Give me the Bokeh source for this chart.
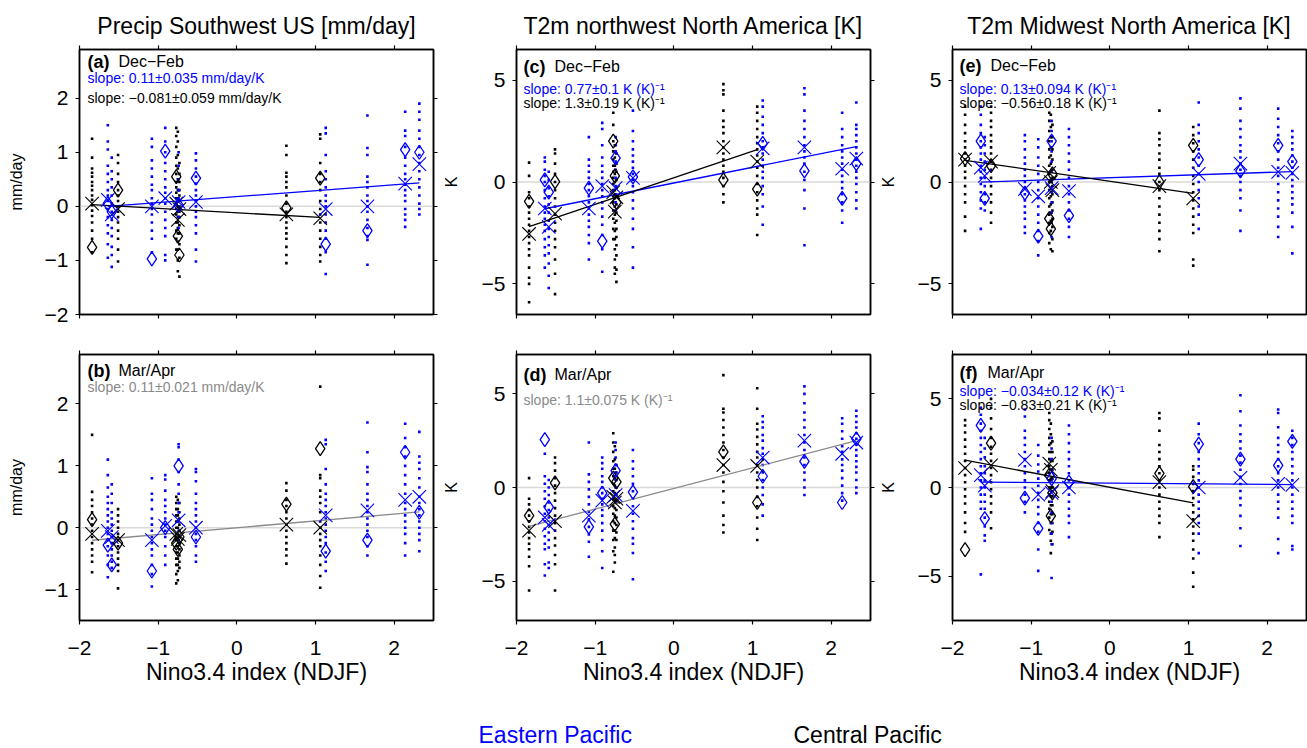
from bokeh.plotting import figure
from bokeh.models import Range1d, LinearAxis, FixedTicker, Label, Span
from bokeh.layouts import column, row
from bokeh.embed import file_html
from bokeh.resources import INLINE
from bokeh.core.properties import value

FONT = "Liberation Sans"
BLUE = "#0000ff"
BLACK = "#000000"
GRAY = "#8a8a8a"

# ---------------- events (Nino3.4 index, ENSO type) ----------------
nino = [-1.84, -1.64, -1.59, -1.51, -1.08, -0.91, -0.77, -0.75, -0.73, -0.74, -0.52,
        0.63, 1.06, 1.13, 1.66, 2.14, 2.32]
etype = ["CP", "EP", "EP", "CP", "EP", "EP", "CP", "CP", "CP", "EP", "EP",
         "CP", "CP", "EP", "EP", "EP", "EP"]

x_ticks = [-2, -1, 0, 1, 2]
x_tick_labels = ["\u22122", "\u22121", "0", "1", "2"]
precip_ticks = [-2, -1, 0, 1, 2]
precip_tick_labels = ["\u22122", "\u22121", "0", "1", "2"]
temp_ticks = [-5, 0, 5]
temp_tick_labels = ["\u22125", "0", "5"]

# ---------------- panel (a) Precip SW US, Dec-Feb ----------------
mean_a = [0.05, 0.12, -0.15, -0.05, 0.0, 0.15, 0.05, -0.25, -0.05, 0.08, 0.08, -0.15, -0.22, -0.05, 0.0, 0.42, 0.78]
obs_a = [-0.76, 0.05, -0.1, 0.3, -0.97, 1.02, 0.55, -0.55, -0.9, 0.02, 0.52, -0.03, 0.52, -0.7, -0.45, 1.05, 1.0]
dots_a = [
    [1.25, 0.9, 0.7, 0.62, 0.55, 0.45, 0.38, 0.3, 0.2, 0.12, 0.02, -0.08, -0.18, -0.3, -0.45, -0.6, -0.85],
    [1.5, 1.2, 1.05, 0.75, 0.6, 0.45, 0.3, 0.2, 0.1, -0.05, -0.2, -0.35, -0.5, -0.7, -0.95],
    [0.9, 0.65, 0.5, 0.35, 0.2, 0.05, -0.1, -0.25, -0.4, -0.55, -0.75, -0.9, -1.12],
    [0.95, 0.8, 0.6, 0.45, 0.3, 0.2, 0.1, 0.0, -0.1, -0.2, -0.3, -0.45, -0.6, -0.8, -1.02],
    [1.25, 1.1, 0.85, 0.7, 0.55, 0.4, 0.3, 0.15, 0.05, -0.05, -0.15, -0.3, -0.45, -0.6, -0.85],
    [1.45, 1.2, 1.0, 0.8, 0.65, 0.5, 0.35, 0.25, 0.15, 0.05, -0.1, -0.25, -0.4, -0.55, -0.9, -1.0],
    [1.45, 1.3, 1.1, 0.9, 0.75, 0.6, 0.45, 0.35, 0.25, 0.15, 0.05, -0.05, -0.15, -0.3, -0.45, -0.6, -0.8],
    [1.38, 1.2, 0.95, 0.7, 0.5, 0.3, 0.15, 0.0, -0.1, -0.2, -0.3, -0.4, -0.5, -0.65, -0.8, -1.0, -1.2],
    [0.8, 0.6, 0.45, 0.3, 0.2, 0.1, 0.0, -0.1, -0.2, -0.35, -0.5, -0.7, -0.95, -1.3],
    [1.0, 0.75, 0.5, 0.3, 0.15, 0.0, -0.2, -0.4],
    [0.98, 0.85, 0.7, 0.55, 0.42, 0.3, 0.2, 0.1, 0.0, -0.1, -0.2, -0.35, -0.5, -0.8, -1.02],
    [1.12, 0.95, 0.62, 0.55, 0.45, 0.35, 0.2, 0.05, -0.1, -0.2, -0.3, -0.4, -0.5, -0.6, -0.75, -0.9, -1.05],
    [1.33, 1.25, 0.8, 0.6, 0.45, 0.3, 0.1, -0.05, -0.15, -0.3, -0.45, -0.6, -0.75, -0.9, -1.02],
    [1.45, 1.35, 0.95, 0.65, 0.5, 0.35, 0.2, 0.1, 0.0, -0.15, -0.3, -0.45, -0.6, -0.85, -1.25],
    [1.68, 1.08, 0.95, 0.55, 0.45, 0.35, 0.2, 0.1, 0.0, -0.1, -0.25, -0.4, -0.55, -0.62, -1.08],
    [1.75, 1.4, 1.3, 1.1, 0.9, 0.75, 0.6, 0.5, 0.4, 0.3, 0.2, 0.1, -0.05, -0.15, -0.25, -0.38],
    [1.9, 1.75, 1.6, 1.4, 1.25, 1.1, 0.95, 0.8, 0.65, 0.5, 0.35, 0.2, 0.05, -0.05, -0.15],
]
fit_a = {"EP": (0.11, 0.18), "CP": (-0.081, -0.119)}

# ---------------- panel (b) Precip SW US, Mar/Apr ----------------
mean_b = [-0.1, -0.05, -0.15, -0.2, -0.2, 0.03, -0.1, -0.18, -0.12, 0.12, 0.0, 0.05, 0.0, 0.2, 0.28, 0.45, 0.5]
obs_b = [0.13, -0.28, -0.6, -0.25, -0.7, 0.0, -0.25, -0.35, -0.15, 1.0, -0.15, 0.38, 1.28, -0.38, -0.2, 1.22, 0.25]
dots_b = [
    [1.5, 0.58, 0.45, 0.35, 0.25, 0.15, 0.05, -0.05, -0.15, -0.25, -0.35, -0.45, -0.55, -0.72],
    [1.1, 0.85, 0.65, 0.5, 0.4, 0.3, 0.2, 0.1, 0.0, -0.1, -0.2, -0.3, -0.45, -0.6, -0.8],
    [0.7, 0.55, 0.4, 0.25, 0.15, 0.05, -0.05, -0.15, -0.25, -0.35, -0.45, -0.55, -0.65],
    [0.3, 0.2, 0.1, 0.0, -0.1, -0.2, -0.3, -0.4, -0.5, -0.6, -0.7, -0.98],
    [0.8, 0.55, 0.45, 0.3, 0.15, 0.05, -0.05, -0.15, -0.25, -0.35, -0.45, -0.6, -0.75, -0.95],
    [0.85, 0.78, 0.6, 0.45, 0.35, 0.25, 0.15, 0.05, -0.05, -0.15, -0.3, -0.45, -0.6],
    [0.5, 0.4, 0.3, 0.2, 0.1, 0.0, -0.1, -0.2, -0.3, -0.4, -0.5, -0.6, -0.75, -0.9],
    [0.45, 0.3, 0.2, 0.1, 0.0, -0.1, -0.2, -0.3, -0.4, -0.5, -0.6, -0.7, -0.85],
    [0.4, 0.25, 0.15, 0.05, -0.05, -0.15, -0.25, -0.35, -0.45, -0.55, -0.65],
    [1.35, 1.3, 1.1, 0.9, 0.7, 0.55, 0.4, 0.25, 0.1, -0.05, -0.2],
    [0.95, 0.9, 0.75, 0.55, 0.4, 0.3, 0.2, 0.1, 0.0, -0.1, -0.2, -0.3, -0.45, -0.55],
    [0.72, 0.6, 0.45, 0.35, 0.25, 0.15, 0.05, -0.05, -0.15, -0.25, -0.35, -0.45, -0.58],
    [2.28, 0.85, 0.8, 0.6, 0.5, 0.4, 0.25, 0.1, 0.0, -0.1, -0.2, -0.3, -0.45, -0.6, -0.78, -0.97],
    [1.42, 1.35, 0.95, 0.7, 0.55, 0.45, 0.35, 0.25, 0.15, 0.05, -0.05, -0.15, -0.25, -0.4, -0.55, -0.7],
    [1.7, 1.22, 0.98, 0.9, 0.7, 0.55, 0.45, 0.35, 0.25, 0.15, 0.05, -0.05, -0.15, -0.3, -0.45],
    [1.68, 1.45, 1.3, 1.15, 1.0, 0.85, 0.7, 0.55, 0.4, 0.3, 0.2, 0.1, 0.0, -0.1, -0.25, -0.45],
    [1.55, 1.15, 1.05, 0.95, 0.8, 0.65, 0.5, 0.4, 0.3, 0.2, 0.1, 0.0, -0.1, -0.2, -0.38],
]
fit_b = {"ALL": (0.11, 0.0)}

# ---------------- panel (c) T2m NW North America, Dec-Feb ----------------
mean_c = [-2.55, -1.3, -2.2, -1.55, -1.3, -0.2, -0.5, -1.45, -0.75, -0.3, 0.2, 1.7, 1.0, 1.65, 1.7, 0.65, 1.15]
obs_c = [-0.95, 0.1, -0.5, 0.02, -0.3, -2.9, 2.0, 0.3, -1.0, 1.17, 0.25, 0.1, -0.35, 1.9, 0.55, -0.8, 0.9]
dots_c = [
    [0.95, 0.3, -0.5, -0.8, -1.2, -1.5, -1.8, -2.1, -2.4, -2.7, -3.0, -3.3, -3.6, -4.2, -4.7, -5.0, -5.9],
    [1.2, 1.0, 0.6, 0.3, 0.0, -0.4, -0.8, -1.2, -1.5, -1.8, -2.1, -2.4, -2.8, -3.2, -3.6, -4.2],
    [0.5, 0.1, -0.3, -0.7, -1.1, -1.5, -1.9, -2.3, -2.7, -3.1, -3.5, -4.0, -4.6, -5.2],
    [1.6, 1.4, 0.9, 0.4, 0.0, -0.4, -0.8, -1.2, -1.6, -2.0, -2.4, -2.8, -3.2, -3.8, -4.5, -5.5],
    [2.2, 1.1, 0.8, 0.5, 0.2, -0.1, -0.4, -0.7, -1.0, -1.3, -1.6, -1.9, -2.2, -2.6, -3.0, -3.8],
    [2.9, 2.6, 1.8, 1.2, 0.8, 0.5, 0.2, -0.1, -0.4, -0.7, -1.0, -1.3, -1.7, -2.1, -2.6, -3.3, -4.4],
    [3.4, 2.8, 2.0, 1.5, 1.1, 0.8, 0.5, 0.2, -0.1, -0.4, -0.7, -1.0, -1.4, -1.8, -2.3, -2.8],
    [1.8, 1.2, 0.8, 0.4, 0.0, -0.4, -0.8, -1.2, -1.6, -2.0, -2.4, -2.8, -3.3, -3.8, -4.2, -4.5],
    [1.4, 0.9, 0.5, 0.1, -0.3, -0.7, -1.1, -1.5, -1.9, -2.3, -2.7, -3.1, -3.6, -4.3, -4.9],
    [2.2, 1.8, 1.5, 1.0, 0.6, 0.2, -0.2, -0.6, -1.0, -1.4],
    [3.5, 2.5, 2.0, 1.6, 1.3, 1.0, 0.7, 0.4, 0.1, -0.2, -0.5, -0.9, -1.3, -1.8, -2.3, -3.2, -4.2],
    [4.8, 4.5, 4.3, 3.5, 3.0, 2.7, 2.4, 2.0, 1.7, 1.4, 1.1, 0.8, 0.5, 0.2, -0.2, -0.6, -1.0],
    [3.7, 3.4, 3.0, 2.6, 2.2, 1.9, 1.6, 1.3, 1.0, 0.7, 0.3, -0.1, -0.5, -0.9, -1.3, -1.6, -2.6],
    [4.0, 3.7, 3.2, 2.8, 2.4, 2.0, 1.7, 1.4, 1.1, 0.8, 0.5, 0.2, -0.2, -0.6, -1.2, -2.1],
    [4.6, 4.3, 3.5, 3.0, 2.6, 2.2, 1.8, 1.5, 1.2, 0.9, 0.5, 0.1, -0.4, -1.3, -3.1],
    [3.4, 2.6, 2.2, 1.8, 1.5, 1.2, 0.9, 0.6, 0.3, 0.0, -0.3, -0.6, -1.0, -1.4, -2.0],
    [3.9, 2.8, 2.6, 2.3, 2.0, 1.7, 1.4, 1.1, 0.8, 0.5, 0.2, -0.1, -0.5, -0.9, -1.3],
]
fit_c = {"EP": (0.77, -0.05), "CP": (1.3, 0.205)}

# ---------------- panel (d) T2m NW North America, Mar/Apr ----------------
mean_d = [-2.3, -1.6, -2.0, -1.8, -1.5, -0.7, -0.5, -0.8, -0.6, -0.4, -1.25, 1.2, 1.15, 1.6, 2.5, 1.8, 2.4]
obs_d = [-1.5, 2.55, -1.05, 0.25, -2.1, -0.3, 0.5, -1.95, 0.3, 0.9, -0.25, 1.9, -0.8, 0.6, 1.4, -0.8, 2.6]
dots_d = [
    [0.5, -0.6, -0.9, -1.2, -1.5, -1.8, -2.1, -2.4, -2.7, -3.0, -3.3, -3.7, -4.2, -5.5],
    [1.8, 0.6, 0.2, -0.2, -0.6, -1.0, -1.4, -1.8, -2.2, -2.6, -3.0, -3.3, -4.1, -4.7],
    [0.4, 0.0, -0.4, -0.8, -1.2, -1.6, -2.0, -2.4, -2.8, -3.2, -4.0, -4.3],
    [1.6, 1.3, 0.9, 0.5, 0.1, -0.3, -0.7, -1.1, -1.5, -1.9, -2.3, -2.7, -3.1, -3.6, -4.1, -5.5],
    [2.4, 0.7, 0.3, -0.1, -0.5, -0.9, -1.3, -1.7, -2.1, -2.5, -2.9, -3.7],
    [1.6, 1.3, 1.0, 0.6, 0.3, 0.0, -0.3, -0.6, -0.9, -1.2, -1.5, -1.9, -2.3, -2.8, -3.4, -4.3],
    [2.9, 2.4, 1.9, 1.4, 1.0, 0.6, 0.2, -0.2, -0.6, -1.0, -1.4, -1.8, -2.3, -2.8, -3.4, -4.5],
    [2.2, 1.5, 1.0, 0.5, 0.1, -0.3, -0.7, -1.1, -1.5, -1.9, -2.3, -2.7, -3.2, -3.6, -4.0],
    [1.2, 0.8, 0.4, 0.0, -0.4, -0.8, -1.2, -1.6, -2.0, -2.4, -2.8],
    [2.4, 2.0, 1.6, 1.2, 0.8, 0.4, 0.0, -0.4, -0.8],
    [2.0, 1.4, 1.0, 0.6, 0.2, -0.2, -0.6, -1.0, -1.4, -1.8, -2.2, -2.7, -3.0, -3.5, -4.9],
    [6.0, 4.2, 4.0, 3.6, 3.2, 2.8, 2.4, 2.0, 1.6, 1.2, 0.8, 0.3, -0.2, -0.8, -1.5, -2.0, -2.4],
    [5.3, 4.2, 3.4, 3.1, 2.7, 2.3, 1.9, 1.6, 1.2, 0.8, 0.4, 0.0, -0.5, -1.0, -1.6, -2.2, -2.8],
    [3.8, 3.5, 3.2, 2.8, 2.5, 2.1, 1.8, 1.5, 1.2, 0.8, 0.4, 0.0, -0.4, -0.9, -1.5],
    [5.4, 5.0, 4.5, 4.0, 3.6, 3.2, 2.8, 2.4, 2.0, 1.6, 1.2, 0.8, 0.4, 0.0, -0.4],
    [3.7, 3.4, 3.0, 2.6, 2.2, 1.9, 1.5, 1.2, 0.9, 0.5, 0.1, -0.3, -0.7],
    [4.1, 3.8, 3.5, 3.2, 2.9, 2.6, 2.3, 2.0, 1.7, 1.4, 1.1, 0.8, 0.4, 0.0, -0.3],
]
fit_d = {"ALL": (1.1, -0.05)}

# ---------------- panel (e) T2m Midwest North America, Dec-Feb ----------------
mean_e = [1.1, 0.7, 0.3, 1.0, -0.35, -0.7, 0.45, 0.0, -0.4, -0.3, -0.45, -0.2, -0.8, 0.4, 0.9, 0.5, 0.45]
obs_e = [1.15, 2.0, -0.8, 0.8, -0.55, -2.65, -1.8, -2.3, 0.4, 2.0, -1.65, 0.0, 1.8, 1.1, 0.55, 1.8, 1.0]
dots_e = [
    [3.7, 3.3, 2.8, 2.4, 2.0, 1.7, 1.4, 1.1, 0.8, 0.5, 0.2, -0.2, -0.6, -1.0, -1.7, -2.4],
    [3.7, 3.3, 2.8, 2.4, 2.0, 1.7, 1.4, 1.1, 0.8, 0.5, 0.2, -0.1, -0.5, -0.9, -1.3, -2.3],
    [2.2, 1.8, 1.4, 1.0, 0.6, 0.2, -0.2, -0.6, -1.0, -1.4],
    [3.7, 3.4, 3.0, 2.7, 2.3, 2.0, 1.7, 1.4, 1.0, 0.6, 0.2, -0.2, -0.6, -1.0, -1.5, -2.0],
    [2.3, 2.0, 1.6, 1.2, 0.9, 0.6, 0.3, 0.0, -0.3, -0.6, -0.9, -1.2, -1.5, -1.8, -2.2, -2.5],
    [2.1, 1.7, 1.2, 0.8, 0.4, 0.0, -0.4, -0.8, -1.2, -1.6, -2.0, -2.4, -2.9, -3.6],
    [3.4, 3.0, 2.5, 2.0, 1.6, 1.2, 0.8, 0.4, 0.0, -0.4, -0.8, -1.2, -1.6, -2.0, -2.5, -3.0],
    [3.3, 2.7, 2.2, 1.7, 1.3, 0.9, 0.5, 0.1, -0.3, -0.7, -1.1, -1.5, -1.9, -2.4, -3.3],
    [2.8, 2.2, 1.6, 1.1, 0.6, 0.2, -0.2, -0.6, -1.0, -1.4, -1.8, -2.2, -2.8, -3.4],
    [3.0, 2.5, 2.0, 1.5, 1.0, 0.5, 0.0, -0.5, -1.0, -1.5, -2.0, -2.7],
    [2.6, 2.2, 1.8, 1.4, 1.0, 0.6, 0.2, -0.2, -0.6, -1.0, -1.4, -1.8, -2.2, -2.7],
    [3.5, 2.4, 2.1, 1.8, 1.4, 1.1, 0.7, 0.4, 0.0, -0.4, -0.8, -1.2, -1.6, -2.0, -2.4, -2.8, -3.4],
    [2.7, 2.3, 1.9, 1.5, 1.1, 0.7, 0.3, -0.1, -0.5, -0.9, -1.3, -1.7, -2.1, -2.5, -3.8, -4.1],
    [3.9, 2.8, 2.4, 2.0, 1.6, 1.2, 0.8, 0.4, 0.0, -0.4, -0.8, -1.2, -1.6, -2.3],
    [4.1, 3.6, 3.0, 2.6, 2.2, 1.8, 1.5, 1.2, 0.9, 0.6, 0.3, 0.0, -0.4, -0.8, -1.4, -2.4],
    [3.6, 3.1, 2.7, 2.3, 1.9, 1.5, 1.1, 0.7, 0.3, -0.1, -0.5, -0.9, -1.3, -1.7, -2.2, -2.7],
    [2.5, 2.2, 1.9, 1.6, 1.3, 1.0, 0.7, 0.4, 0.1, -0.2, -0.5, -0.8, -1.1, -1.5, -2.2, -3.5],
]
fit_e = {"EP": (0.13, 0.21), "CP": (-0.56, 0.035)}

# ---------------- panel (f) T2m Midwest North America, Mar/Apr ----------------
mean_f = [1.1, 0.7, 0.1, 1.25, 1.55, -0.4, 1.35, 1.0, -0.2, -0.3, 0.0, 0.3, -1.9, 0.0, 0.55, 0.2, 0.15]
obs_f = [-3.5, 3.5, -1.75, 2.5, -0.6, -2.3, 0.7, -1.6, -0.3, 0.5, 0.3, 0.8, 0.05, 2.45, 1.6, 1.25, 2.6]
dots_f = [
    [3.8, 3.5, 3.1, 2.7, 2.3, 1.9, 1.5, 1.1, 0.7, 0.3, -0.1, -0.5, -0.9, -1.4, -2.0, -2.5],
    [4.5, 4.1, 3.6, 3.2, 2.8, 2.4, 2.0, 1.6, 1.2, 0.8, 0.4, 0.0, -0.4, -0.8, -1.2, -4.9],
    [2.8, 2.2, 1.7, 1.2, 0.8, 0.4, 0.0, -0.4, -0.8, -1.2, -1.7, -2.2, -2.7, -3.0],
    [5.0, 4.5, 3.9, 3.3, 2.8, 2.3, 1.9, 1.5, 1.1, 0.7, 0.3, -0.1, -0.5, -0.9, -1.4, -2.3],
    [4.4, 4.0, 3.2, 2.8, 2.4, 2.0, 1.6, 1.2, 0.8, 0.4, 0.0, -0.4, -0.8, -1.4],
    [2.4, 1.8, 1.3, 0.9, 0.5, 0.1, -0.3, -0.7, -1.1, -1.5, -2.0, -2.5, -3.5, -4.7],
    [4.2, 3.8, 3.3, 2.8, 2.4, 2.0, 1.6, 1.2, 0.8, 0.4, 0.0, -0.4, -0.8, -1.2, -1.7, -2.4],
    [3.6, 3.0, 2.5, 2.0, 1.5, 1.0, 0.5, 0.0, -0.5, -1.0, -1.5, -2.0, -2.6, -3.0, -3.7],
    [2.6, 2.0, 1.5, 1.0, 0.5, 0.0, -0.5, -1.0, -1.5, -2.0, -2.5, -3.2],
    [2.8, 2.2, 1.6, 1.0, 0.4, -0.2, -0.8, -1.4, -2.0, -2.6, -3.2, -5.1],
    [3.5, 3.0, 2.5, 2.0, 1.6, 1.2, 0.8, 0.4, 0.0, -0.4, -0.8, -1.2, -1.6, -2.0, -2.8],
    [4.2, 3.9, 3.2, 2.4, 2.0, 1.6, 1.2, 0.8, 0.4, 0.0, -0.4, -0.8, -1.2, -1.6, -2.0, -2.8],
    [1.2, 1.0, 0.6, 0.2, -0.2, -0.6, -1.0, -1.4, -1.8, -2.2, -2.6, -3.0, -3.5, -4.0, -4.8, -5.6],
    [3.6, 3.0, 2.5, 2.0, 1.6, 1.2, 0.8, 0.4, 0.0, -0.4, -0.8, -1.2, -1.6, -2.0, -2.6, -3.7],
    [5.2, 4.3, 3.5, 3.0, 2.6, 2.2, 1.8, 1.4, 1.0, 0.6, 0.2, -0.2, -0.6, -1.0, -1.6, -2.3, -3.3],
    [4.4, 4.2, 3.4, 2.8, 2.4, 2.0, 1.6, 1.2, 0.8, 0.4, 0.0, -0.4, -0.8, -1.2, -1.7, -2.9, -3.7],
    [3.2, 2.8, 2.4, 2.0, 1.6, 1.2, 0.8, 0.4, 0.0, -0.4, -0.8, -1.2, -1.6, -2.0, -3.3, -3.5],
]
fit_f = {"EP": (-0.034, 0.245), "CP": (-0.83, 0.011)}

titles = ["Precip Southwest US [mm/day]", "T2m northwest North America [K]", "T2m Midwest North America [K]"]
KM1 = " K (K)\u207b\u00b9"

panels = {
    "a": dict(mean=mean_a, obs=obs_a, dots=dots_a, fit=fit_a, yr=(-2.0, 2.9), ticks=precip_ticks,
              tlabels=precip_tick_labels, ylabel="mm/day", season="Dec\u2212Feb",
              slopes=[("slope: 0.11\u00b10.035 mm/day/K", BLUE), ("slope: \u22120.081\u00b10.059 mm/day/K", BLACK)]),
    "b": dict(mean=mean_b, obs=obs_b, dots=dots_b, fit=fit_b, yr=(-1.5, 2.8), ticks=precip_ticks,
              tlabels=precip_tick_labels, ylabel="mm/day", season="Mar/Apr",
              slopes=[("slope: 0.11\u00b10.021 mm/day/K", GRAY)]),
    "c": dict(mean=mean_c, obs=obs_c, dots=dots_c, fit=fit_c, yr=(-6.5, 6.5), ticks=temp_ticks,
              tlabels=temp_tick_labels, ylabel="K", season="Dec\u2212Feb",
              slopes=[("slope: 0.77\u00b10.1" + KM1, BLUE), ("slope: 1.3\u00b10.19" + KM1, BLACK)]),
    "d": dict(mean=mean_d, obs=obs_d, dots=dots_d, fit=fit_d, yr=(-7.1, 7.1), ticks=temp_ticks,
              tlabels=temp_tick_labels, ylabel="K", season="Mar/Apr",
              slopes=[("slope: 1.1\u00b10.075" + KM1, GRAY)]),
    "e": dict(mean=mean_e, obs=obs_e, dots=dots_e, fit=fit_e, yr=(-6.5, 6.5), ticks=temp_ticks,
              tlabels=temp_tick_labels, ylabel="K", season="Dec\u2212Feb",
              slopes=[("slope: 0.13\u00b10.094" + KM1, BLUE), ("slope: \u22120.56\u00b10.18" + KM1, BLACK)]),
    "f": dict(mean=mean_f, obs=obs_f, dots=dots_f, fit=fit_f, yr=(-7.5, 7.5), ticks=temp_ticks,
              tlabels=temp_tick_labels, ylabel="K", season="Mar/Apr",
              slopes=[("slope: \u22120.034\u00b10.12" + KM1, BLUE), ("slope: \u22120.83\u00b10.21" + KM1, BLACK)]),
}

# layout (pixels)
FW = 354
BL = [79, 77, 75]
BR = [6, 6, 2]
Y_STANDOFF = [17, 19, 18]
# text offsets from frame top: (season, slope1, slope2)
TXT = {"a": (3, 20, 40), "b": (7, 24), "c": (8, 31, 45), "d": (11, 37), "e": (7, 31, 45), "f": (9, 28, 42)}
TAGX = {"a": (8, 39), "b": (8, 39), "c": (7, 38), "d": (7, 38), "e": (7, 38), "f": (7, 35)}


def make_panel(key, col, toprow):
    d = panels[key]
    fh = 265 if toprow else 266
    p = figure(frame_width=FW, frame_height=fh, x_range=Range1d(-2, 2.5), y_range=Range1d(*d["yr"]),
               output_backend="svg", toolbar_location=None,
               min_border_left=BL[col], min_border_right=BR[col],
               min_border_top=49 if toprow else 27, min_border_bottom=13 if toprow else 74,
               background_fill_color="white", border_fill_color="white")
    p.xgrid.visible = False
    p.ygrid.visible = False
    p.outline_line_color = "black"
    p.outline_line_width = 1.5

    # axes
    xa, ya = p.xaxis[0], p.yaxis[0]
    xa.ticker = FixedTicker(ticks=x_ticks)
    xa.major_label_overrides = {t: l for t, l in zip(x_ticks, x_tick_labels)}
    ya.ticker = FixedTicker(ticks=d["ticks"])
    ya.major_label_overrides = {t: l for t, l in zip(d["ticks"], d["tlabels"])}
    for ax in (xa, ya):
        ax.major_tick_out = 4
        ax.major_tick_in = 0
        ax.minor_tick_out = 0
        ax.minor_tick_in = 0
        ax.axis_line_width = 1.5
        ax.major_tick_line_width = 1.2
        ax.major_label_text_font = FONT
        ax.major_label_text_font_size = "21px"
        ax.major_label_text_color = "black"
        ax.axis_label_text_font = FONT
        ax.axis_label_text_font_style = "normal"
        ax.axis_label_text_color = "black"
    ya.major_label_standoff = 7
    ya.axis_label = d["ylabel"]
    ya.axis_label_text_font_size = "16px"
    ya.axis_label_standoff = Y_STANDOFF[col]
    if toprow:
        xa.major_label_text_font_size = "1px"
        xa.major_label_text_color = None
        xa.major_label_standoff = 0
    else:
        xa.major_label_standoff = 16
        xa.axis_label = "Nino3.4 index (NDJF)"
        xa.axis_label_text_font_size = "23px"
        xa.axis_label_standoff = 1

    for loc, tk in (("right", d["ticks"]), ("above", x_ticks)):
        ax = LinearAxis(ticker=FixedTicker(ticks=tk), major_tick_out=4, major_tick_in=0,
                        minor_tick_out=0, minor_tick_in=0, axis_line_width=1.5,
                        major_tick_line_width=1.2, major_label_text_font_size="1px",
                        major_label_text_color=None, major_label_standoff=0)
        p.add_layout(ax, loc)

    if toprow:
        p.title.text = titles[col]
        p.title.align = "center"
        p.title.text_font = FONT
        p.title.text_font_size = "23px"
        p.title.text_font_style = "normal"
        p.title.text_color = "black"
        p.title.standoff = 13

    p.add_layout(Span(location=0, dimension="width", line_color="#d9d9d9", line_width=1.5, level="underlay"))

    # ensemble members
    for kind, colr in (("CP", BLACK), ("EP", BLUE)):
        xs, ys = [], []
        for xi, t, dl in zip(nino, etype, d["dots"]):
            if t == kind:
                xs += [xi] * len(dl)
                ys += dl
        p.scatter(xs, ys, marker="square", size=2.6, fill_color=colr, line_color=None)

    # fits
    for kind, (slope, icpt) in d["fit"].items():
        xs = [xi for xi, t in zip(nino, etype) if kind == "ALL" or t == kind]
        x0, x1 = min(xs), max(xs)
        colr = GRAY if kind == "ALL" else (BLUE if kind == "EP" else BLACK)
        p.line([x0, x1], [icpt + slope * x0, icpt + slope * x1], line_color=colr, line_width=1.3)

    # observations and ensemble means
    for kind, colr in (("CP", BLACK), ("EP", BLUE)):
        xs = [xi for xi, t in zip(nino, etype) if t == kind]
        ob = [v for v, t in zip(d["obs"], etype) if t == kind]
        mn = [v for v, t in zip(d["mean"], etype) if t == kind]
        p.scatter(xs, ob, marker="diamond", size=14, fill_color=None, line_color=colr, line_width=1.3)
        p.scatter(xs, mn, marker="x", size=19, line_color=colr, line_width=1.1)

    # texts
    offs = TXT[key]
    tx = TAGX[key]
    p.add_layout(Label(x=tx[0], y=fh - offs[0] + 1, x_units="screen", y_units="screen", text="(" + key + ")",
                       text_font=FONT, text_font_size="18px", text_font_style="bold",
                       text_baseline="top", text_color="black"))
    p.add_layout(Label(x=tx[1], y=fh - offs[0], x_units="screen", y_units="screen", text=d["season"],
                       text_font=FONT, text_font_size="16px", text_baseline="top", text_color="black"))
    for (txt, colr), off in zip(d["slopes"], offs[1:]):
        p.add_layout(Label(x=tx[0], y=fh - off, x_units="screen", y_units="screen", text=txt,
                           text_font=FONT, text_font_size="14px", text_baseline="top", text_color=colr))
    return p


top = row(make_panel("a", 0, True), make_panel("c", 1, True), make_panel("e", 2, True))
bot = row(make_panel("b", 0, False), make_panel("d", 1, False), make_panel("f", 2, False))

LW = sum(BL) + sum(BR) + 3 * FW
LH = 52
leg = figure(width=LW, height=LH, x_range=Range1d(0, LW), y_range=Range1d(0, LH),
             output_backend="svg", toolbar_location=None, min_border=0,
             outline_line_color=None)
leg.axis.visible = False
leg.grid.visible = False
leg_names = ["Eastern Pacific", "Central Pacific"]
leg_colors = [BLUE, BLACK]
leg_x = [478, 793]
leg.text(x=leg_x, y=[LH - 40, LH - 40], text=leg_names, text_color=leg_colors, text_font=value(FONT),
         text_font_size="23px", text_baseline="middle", text_align="left")

layout = column(top, bot, leg)
open("out.html", "w").write(file_html(layout, INLINE))
